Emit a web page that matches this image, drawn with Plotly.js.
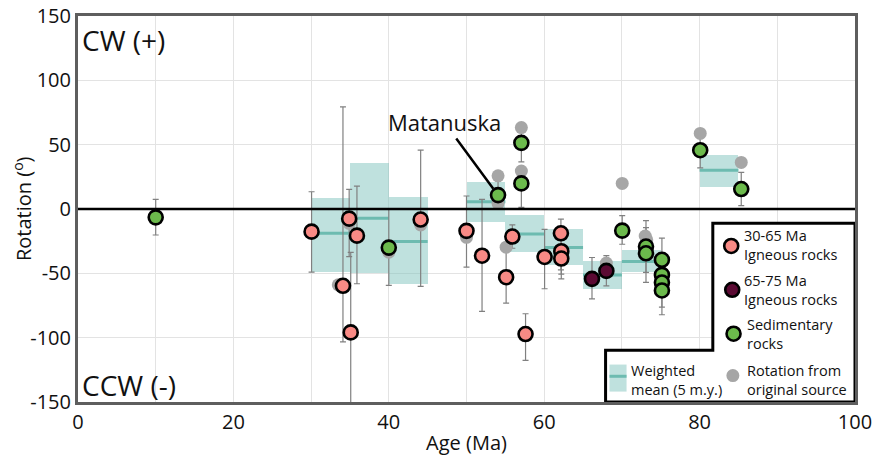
<!DOCTYPE html>
<html>
<head>
<meta charset="utf-8">
<script src="https://cdn.plot.ly/plotly-3.0.1.min.js"></script>
<style>html,body{margin:0;padding:0;background:#fff;}#chart{width:873px;height:462px;}</style>
</head>
<body>
<div id="chart"></div>
<script>
// ---- Data ----
// 30-65 Ma igneous rocks
const igAge   = [30.06, 34.9, 35.9, 34.1, 35.1, 44.1, 50.0, 52.0, 55.9, 55.1, 57.6, 60.05, 62.15, 62.2, 62.2];
const igRot   = [-17.6, -7.5, -20.7, -59.7, -95.9, -8.2, -17.0, -36.3, -21.4, -53.0, -97.2, -37.3, -18.9, -32.8, -38.5];
const igPlus  = [31.0, 22.7, 38.5, 139.0, 62.2, 53.9, 27.1, 43.8, 9.0, 24.0, 15.8, 21.5, 11.1, 10.0, 10.0];
const igMinus = [31.4, 29.5, 37.4, 43.6, 70.0, 52.0, 28.2, 43.3, 9.1, 20.1, 20.4, 24.7, 28.4, 17.8, 15.8];
// 65-75 Ma igneous rocks
const oldAge   = [66.15, 68.0];
const oldRot   = [-54.3, -48.1];
const oldPlus  = [16.6, 11.9];
const oldMinus = [15.5, 11.6];
// Sedimentary rocks
const sedAge   = [10.0, 40.0, 54.06, 57.06, 57.06, 70.04, 73.1, 73.1, 75.15, 75.15, 75.15, 75.15, 80.08, 85.36];
const sedRot   = [-6.5, -30.0, 10.8, 51.4, 19.9, -16.8, -29.2, -34.4, -39.5, -51.2, -57.1, -63.3, 45.7, 15.5];
const sedPlus  = [14.0, 30.0, 11.0, 10.0, 10.0, 11.6, 20.1, 20.0, 16.8, 14.0, 14.0, 14.0, 14.8, 12.9];
const sedMinus = [13.7, 29.4, 8.0, 14.7, 18.6, 10.6, 20.0, 22.7, 16.8, 14.0, 19.1, 18.9, 13.7, 12.9];
// Rotation from original source
const srcAge = [33.5, 34.9, 40.0, 44.1, 50.0, 54.06, 54.06, 55.1, 57.06, 57.06, 68.0, 70.04, 73.0, 73.2, 80.08, 85.36];
const srcRot = [-58.9, -11.1, -33.6, -12.4, -22.0, 25.8, 4.4, -29.7, 63.3, 29.5, -42.0, 19.9, -21.0, -24.0, 58.7, 36.2];
// Weighted mean (5 m.y. bins)
const binStart  = [30, 35, 40, 50, 55, 60, 65, 70, 80];
const binEnd    = [35, 40, 45, 55, 60, 65, 70, 75, 85];
const binTop    = [8.3, 35.9, 9.5, 21.2, -5.0, -15.8, -40.3, -31.8, 41.9];
const binBottom = [-48.6, -49.9, -58.1, -9.8, -33.8, -43.4, -62.0, -49.1, 17.3];
const binMean   = [-18.9, -7.2, -25.3, 5.7, -19.5, -30.0, -51.2, -40.8, 30.2];
// Tick labels
const yTickVals = [-150, -100, -50, 0, 50, 100, 150];
const yTickText = ["-150", "-100", "-50", "0", "50", "100", "150"];
const xTickVals = [0, 20, 40, 60, 80, 100];
const xTickText = ["0", "20", "40", "60", "80", "100"];

// ---- Styles ----
const FONT = "Open Sans, sans-serif";
const PINK = "#f88a85", PURPLE = "#5b0a33", GREEN = "#6cba4c", GRAY = "#a6a6a6";
const TEAL_FILL = "rgba(128,196,190,0.5)", TEAL_LINE = "#6dbbb0";
const ERR = {color: "#808080", thickness: 1.2, width: 3};

function errTrace(x, y, p, m) {
  return {type: "scatter", mode: "markers", x: x, y: y, hoverinfo: "skip", showlegend: false,
    marker: {size: 1, opacity: 0},
    error_y: Object.assign({type: "data", symmetric: false, array: p, arrayminus: m, visible: true}, ERR)};
}
function ptTrace(x, y, color, name, outline) {
  return {type: "scatter", mode: "markers", x: x, y: y, name: name, showlegend: false,
    marker: {size: outline ? 14 : 13, color: color, line: {color: "#000", width: outline ? 2.6 : 0}}};
}

const centers = binStart.map((s, i) => (s + binEnd[i]) / 2);
const widths = binStart.map((s, i) => binEnd[i] - s);
const heights = binTop.map((t, i) => t - binBottom[i]);
const meanX = [], meanY = [];
binStart.forEach((s, i) => { meanX.push(s, binEnd[i], null); meanY.push(binMean[i], binMean[i], null); });

const traces = [
  {type: "bar", x: centers, y: heights, base: binBottom, width: widths, showlegend: false,
   marker: {color: TEAL_FILL, line: {width: 0}}, hoverinfo: "skip"},
  {type: "scatter", mode: "lines", x: meanX, y: meanY, showlegend: false,
   line: {color: TEAL_LINE, width: 3}, hoverinfo: "skip"},
  errTrace(igAge, igRot, igPlus, igMinus),
  errTrace(oldAge, oldRot, oldPlus, oldMinus),
  errTrace(sedAge, sedRot, sedPlus, sedMinus),
  ptTrace(srcAge, srcRot, GRAY, "Rotation from original source", false),
  ptTrace(igAge, igRot, PINK, "30-65 Ma Igneous rocks", true),
  ptTrace(oldAge, oldRot, PURPLE, "65-75 Ma Igneous rocks", true),
  ptTrace(sedAge, sedRot, GREEN, "Sedimentary rocks", true)
];

// legend geometry (data coords)
const LX = 81.7, LY = -11.1, SX = 67.9, SY = -109.8;
function circ(x, y, color, r, outline) {
  return {type: "circle", xref: "x", yref: "y", xsizemode: "pixel", ysizemode: "pixel",
    xanchor: x, yanchor: y, x0: -r, x1: r, y0: -r, y1: r, layer: "above",
    fillcolor: color, line: {color: "#000", width: outline ? 2.6 : 0}};
}
const shapes = [
  {type: "line", xref: "paper", yref: "y", x0: 0, x1: 1, y0: 0, y1: 0, layer: "above",
   line: {color: "#000", width: 2.5}},
  {type: "path", xref: "x", yref: "y", layer: "above",
   path: `M ${LX},${LY} L 100,${LY} L 100,-150 L ${SX},-150 L ${SX},${SY} L ${LX},${SY} Z`,
   fillcolor: "#fff", line: {color: "#000", width: 3}},
  circ(84.07, -28.7, PINK, 7, true),
  circ(84.2, -62.8, PURPLE, 7, true),
  circ(84.37, -96.9, GREEN, 7, true),
  circ(84.28, -129.5, GRAY, 6.5, false),
  {type: "rect", xref: "x", yref: "y", x0: 68.4, x1: 70.6, y0: -141.9, y1: -120.9, layer: "above",
   fillcolor: TEAL_FILL, line: {width: 0}},
  {type: "line", xref: "x", yref: "y", x0: 68.4, x1: 70.6, y0: -130.0, y1: -130.0, layer: "above",
   line: {color: TEAL_LINE, width: 3}}
];

function lt(x, y, t) {
  return {xref: "x", yref: "y", x: x, y: y, text: t, showarrow: false, xanchor: "left", yanchor: "middle",
    align: "left", font: {family: FONT, size: 14.5, color: "#111"}};
}
const annotations = [
  {xref: "paper", yref: "paper", x: 0.002, y: 0.937, text: "CW (+)", showarrow: false, xanchor: "left",
   yanchor: "middle", font: {family: FONT, size: 28, color: "#111"}},
  {xref: "paper", yref: "paper", x: 0.002, y: 0.044, text: "CCW (-)", showarrow: false, xanchor: "left",
   yanchor: "middle", font: {family: FONT, size: 28, color: "#111"}},
  {xref: "x", yref: "y", x: 54.06, y: 10.8, text: "Matanuska", showarrow: true, arrowhead: 0,
   arrowwidth: 2.5, arrowcolor: "#000", ax: -54, ay: -73, standoff: 8,
   font: {family: FONT, size: 22, color: "#111"}},
  {xref: "paper", yref: "paper", x: -0.072, y: 0.5, text: "Rotation (<sup>o</sup>)", textangle: -90,
   showarrow: false, xanchor: "center", yanchor: "middle", font: {family: FONT, size: 20, color: "#111"}},
  lt(85.5, -28.3, "30-65 Ma<br>Igneous rocks"),
  lt(85.5, -62.8, "65-75 Ma<br>Igneous rocks"),
  lt(85.8, -97.4, "Sedimentary<br>rocks"),
  lt(70.95, -132.6, "Weighted<br>mean (5 m.y.)"),
  lt(85.8, -132.6, "Rotation from<br>original source")
];

const layout = {
  width: 873, height: 462,
  margin: {l: 78, r: 18, t: 16, b: 60},
  paper_bgcolor: "#fff", plot_bgcolor: "#fff",
  font: {family: FONT, color: "#111"},
  barmode: "overlay", bargap: 0,
  showlegend: false,
  xaxis: {range: [0, 100], tickvals: xTickVals, ticktext: xTickText, showgrid: true, gridcolor: "#e3e3e3", gridwidth: 1,
    minor: {dtick: 10, showgrid: true, gridcolor: "#e3e3e3", gridwidth: 1},
    zeroline: false, showline: true, mirror: true, linecolor: "#5e5e5e", linewidth: 3, ticks: "",
    tickfont: {family: FONT, size: 20, color: "#111"},
    title: {text: "Age (Ma)", font: {family: FONT, size: 20, color: "#111"}, standoff: 2}},
  yaxis: {range: [-150, 150], tickvals: yTickVals, ticktext: yTickText, showgrid: true, gridcolor: "#e3e3e3", gridwidth: 1,
    zeroline: false, showline: true, mirror: true, linecolor: "#5e5e5e", linewidth: 3, ticks: "",
    tickfont: {family: FONT, size: 20, color: "#111"}},
  shapes: shapes,
  annotations: annotations
};

Plotly.newPlot("chart", traces, layout, {displayModeBar: false, staticPlot: true});
</script>
</body>
</html>
